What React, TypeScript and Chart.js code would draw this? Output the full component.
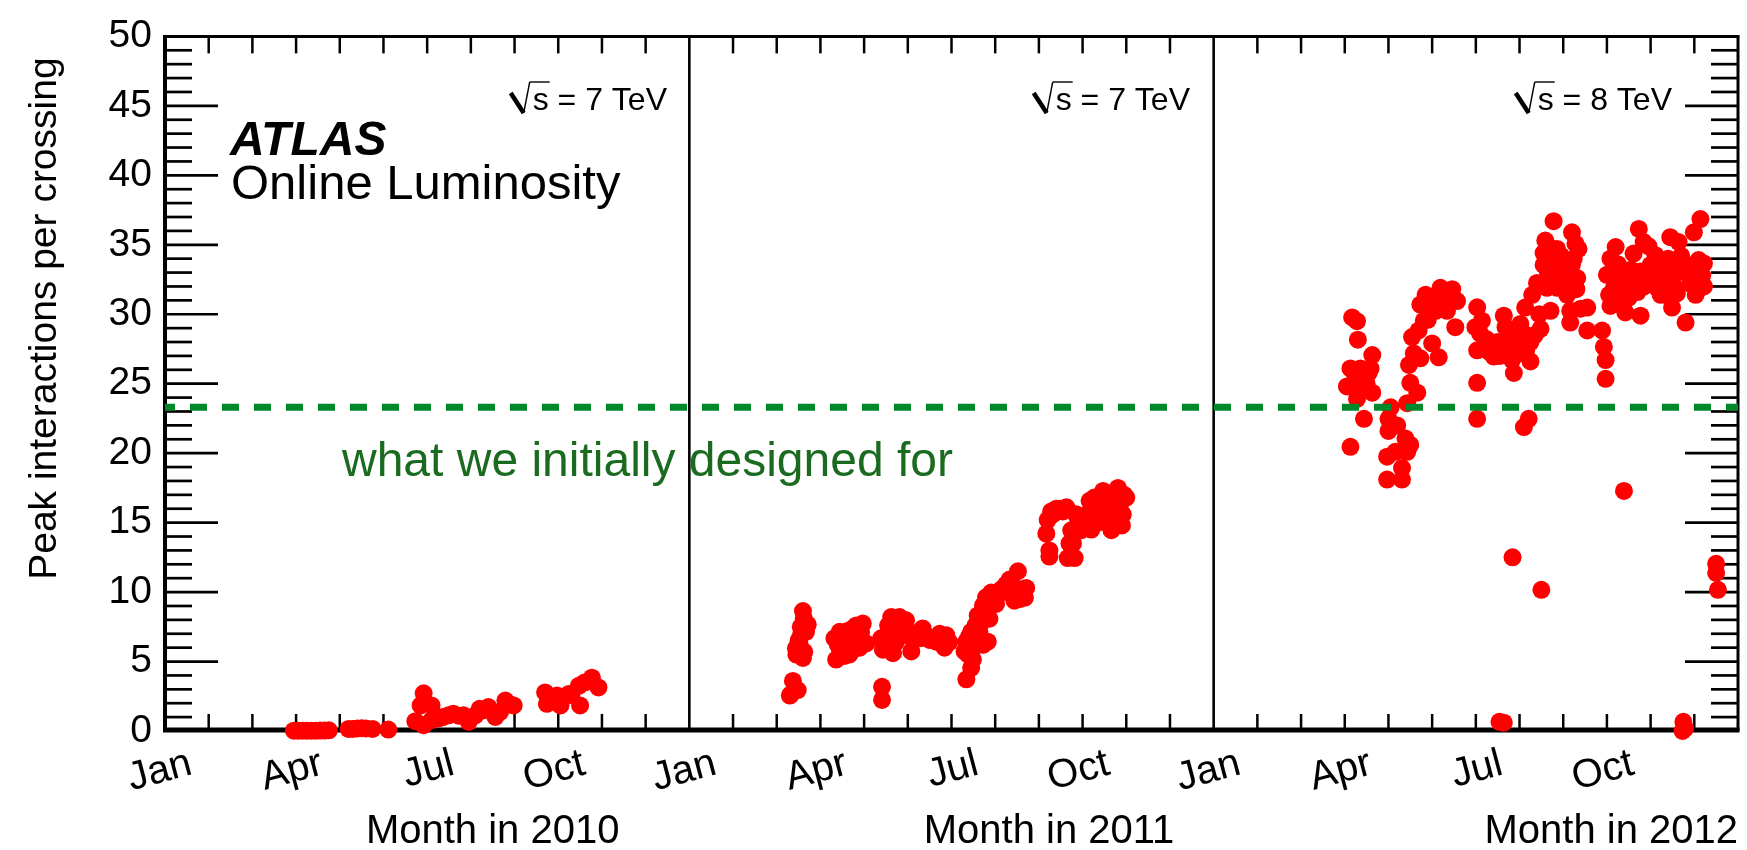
import React, { useEffect, useRef } from 'react';
import { Chart, registerables } from 'chart.js';

Chart.register(...registerables);

const FONT = '"Liberation Sans", Arial, Helvetica, sans-serif';

// ---- axis text ----
const xTickLabels = ['Jan', 'Apr', 'Jul', 'Oct']; // one every 3 months
const yearTitles = ['Month in 2010', 'Month in 2011', 'Month in 2012'];
const energies = ['7', '7', '8'];
const yTitle = 'Peak interactions per crossing';
const designLabel = 'what we initially designed for';
const designValue = 23.3;

// ---- data: month within the year (0 = 1 Jan), peak interactions per crossing ----
const months2010 = [2.95, 3.05, 3.15, 3.25, 3.35, 3.45, 3.55, 3.65, 3.75, 4.2, 4.3, 4.4, 4.5, 4.6, 4.75, 5.11, 5.73, 5.85, 5.92, 5.92, 6.1, 6.1, 6.26, 6.36, 6.49, 6.6, 6.72, 6.83, 6.95, 7.1, 7.2, 7.3, 7.4, 7.56, 7.67, 7.79, 7.9, 7.98, 8.7, 8.74, 8.97, 9.05, 9.15, 9.24, 9.3, 9.47, 9.5, 9.6, 9.77, 9.92];
const values2010 = [0.02, 0.02, 0.02, 0.02, 0.02, 0.02, 0.03, 0.03, 0.05, 0.15, 0.15, 0.18, 0.2, 0.18, 0.15, 0.1, 0.71, 1.84, 2.71, 0.42, 1.84, 0.78, 0.9, 1.0, 1.13, 1.25, 1.1, 1.13, 0.66, 1.13, 1.6, 1.5, 1.72, 1.01, 1.37, 2.19, 1.9, 1.84, 2.78, 1.96, 2.55, 1.84, 2.5, 2.66, 2.6, 3.25, 1.84, 3.49, 3.84, 3.14];

const months2011 = [2.33, 2.37, 2.48, 2.3, 2.6, 2.71, 2.67, 2.56, 2.52, 2.48, 2.6, 2.63, 2.44, 2.5, 2.55, 2.62, 2.45,
  3.36, 3.32, 3.44, 3.59, 3.66, 3.74, 3.82, 3.97, 4.05, 3.93, 3.51, 3.66, 3.85, 3.4, 3.48, 3.55, 3.62, 3.7, 3.78, 3.9, 3.45, 3.55, 3.7,
  4.41, 4.41,
  4.62, 4.81, 4.96, 4.39, 4.43, 4.66, 4.73, 4.58, 5.08, 5.04, 5.34, 5.5, 5.73, 5.88, 5.84, 5.65, 5.27, 4.89, 4.5, 4.55, 4.7, 4.78, 4.85, 4.95, 5.12, 5.2, 5.4, 5.6, 5.8, 5.95, 4.5,
  6.34, 6.45, 6.49, 6.3, 6.34, 6.45, 6.64, 6.83, 6.72, 6.6, 6.72, 6.79, 6.91, 7.02, 6.87, 7.14, 7.25, 7.33, 7.44, 7.56, 7.52, 7.63, 7.71, 7.48, 6.38, 6.4, 6.55, 6.68, 6.75, 6.85, 6.95, 7.05, 7.18, 7.3, 7.4, 7.6, 7.68, 6.5,
  8.17, 8.24, 8.24, 8.32, 8.4, 8.63, 8.7, 8.66, 8.82, 8.78, 8.74, 8.85, 8.97, 9.16, 9.16, 9.27, 9.47, 9.62, 9.66, 9.81, 9.92, 10.0, 9.39, 9.54, 9.77, 8.2, 8.28, 8.5, 8.55, 8.9, 9.0, 9.1, 9.2, 9.3, 9.45, 9.6, 9.7, 9.85, 9.95, 9.2, 9.35, 9.5, 9.75, 9.9];
const values2011 = [2.66, 3.6, 2.95, 2.55, 8.63, 7.66, 7.14, 7.0, 6.3, 5.85, 5.26, 5.7, 5.95, 6.5, 7.5, 8.1, 5.5,
  5.14, 6.67, 7.14, 6.2, 5.5, 7.38, 7.6, 7.73, 6.3, 7.1, 6.9, 6.9, 6.55, 6.2, 6.5, 7.0, 7.2, 6.8, 6.3, 6.0, 5.6, 5.4, 5.7,
  3.18, 2.24,
  8.2, 8.2, 7.97, 6.67, 5.85, 5.6, 6.4, 7.14, 5.73, 7.14, 7.38, 6.55, 7.0, 6.9, 6.0, 6.43, 6.67, 7.6, 6.3, 7.6, 7.9, 6.9, 6.9, 7.0, 6.6, 6.9, 6.9, 6.7, 6.6, 6.4, 5.9,
  3.72, 4.55, 5.14, 5.73, 6.43, 7.14, 7.14, 6.43, 6.2, 8.32, 9.03, 9.62, 9.97, 9.15, 8.08, 10.2, 10.56, 10.9, 9.38, 9.5, 11.5, 10.2, 10.3, 9.97, 5.5, 6.8, 7.6, 7.8, 8.6, 9.2, 9.5, 9.8, 10.0, 10.3, 10.5, 9.8, 9.6, 6.0,
  14.2, 13.0, 12.56, 15.6, 16.0, 16.1, 13.5, 12.45, 12.45, 13.5, 14.45, 15.6, 14.45, 14.9, 16.57, 16.8, 17.28, 15.6, 14.45, 17.5, 15.6, 16.8, 16.2, 16.57, 16.57, 15.2, 15.8, 16.0, 15.8, 15.0, 15.3, 15.6, 16.0, 16.4, 16.6, 17.0, 16.4, 16.2, 17.0, 14.5, 15.0, 15.3, 15.0, 14.8];

const months2012 = [3.17, 3.28, 3.3, 3.13, 3.2, 3.36, 3.63, 3.59, 3.05, 3.2, 3.36, 3.63, 3.44, 3.44, 3.13, 3.28, 3.4, 3.5, 3.25, 3.55,
  4.05, 4.0, 4.0, 4.2, 4.39, 4.5, 3.97, 4.16, 4.31, 3.97, 4.31, 4.43,
  4.43, 4.5, 4.66, 4.47, 4.54, 4.58, 4.73, 4.69, 4.81, 5.0, 5.15, 4.73, 4.85, 5.19, 5.46, 5.57, 5.34, 5.08, 5.53, 5.27, 4.96, 4.9, 5.05, 5.12, 5.4, 5.3,
  6.03, 5.99, 6.03, 6.03, 6.03, 6.14, 6.1, 6.18, 6.41, 6.37, 6.64, 6.68, 6.71, 6.83, 6.87, 6.94, 7.02, 7.1, 7.25, 7.25, 7.13, 7.29, 7.4, 7.48, 6.25, 6.3, 6.5, 6.55, 6.75, 6.9, 7.0, 7.15, 7.35, 7.45,
  7.71, 7.55, 7.59, 7.78, 7.55, 7.63, 7.86, 7.93, 8.01, 8.09, 7.86, 7.93, 8.2, 8.28, 8.24, 8.32, 8.16, 8.16, 8.55, 8.55, 8.89, 8.93, 8.97, 8.97, 7.65, 7.7, 7.8, 7.75, 7.95, 8.05, 8.12, 8.2, 8.35, 8.3, 8.4,
  9.0, 9.08, 9.2, 9.16, 9.08, 9.31, 9.42, 9.5, 9.61, 9.73, 9.84, 9.77, 9.77, 9.92, 10.0, 10.11, 10.15, 10.23, 10.38, 10.45, 10.53, 10.64, 10.53, 10.49, 10.8, 10.99, 11.14, 11.03, 11.22, 11.22, 11.03, 10.99, 10.76, 10.23, 9.23, 9.54, 9.05, 9.12, 9.25, 9.35, 9.45, 9.55, 9.65, 9.7, 9.85, 9.95, 10.05, 10.3, 10.4, 10.6, 10.7, 10.85, 10.9, 11.1, 11.18, 11.1, 10.45, 10.6,
  7.21, 7.1, 9.39, 6.84, 7.5, 11.5, 11.5, 11.54, 6.54, 6.64, 10.75, 10.79, 10.73];
const values2012 = [29.77, 29.5, 28.17, 26.1, 25.9, 26.1, 27.06, 26.1, 24.8, 24.7, 24.6, 24.35, 25.3, 22.47, 20.46, 23.9, 25.7, 25.0, 25.4, 25.8,
  23.3, 22.47, 21.6, 22.0, 21.05, 20.6, 19.75, 20.1, 18.93, 18.1, 18.1, 20.1,
  23.6, 25.06, 24.35, 26.35, 28.36, 27.18, 26.83, 28.83, 29.54, 27.9, 26.9, 30.7, 31.4, 31.9, 31.8, 30.95, 30.25, 30.25, 29.07, 31.2, 30.7, 29.6, 31.3, 30.9, 31.3, 30.4,
  30.5, 29.07, 27.4, 25.06, 22.47, 29.54, 28.6, 27.5, 26.95, 27.9, 29.9, 29.07, 27.65, 26.7, 25.77, 27.9, 29.3, 28.6, 28.0, 26.6, 30.48, 31.4, 32.25, 28.95, 28.2, 27.3, 28.0, 27.0, 28.3, 28.8, 27.2, 27.4, 28.5, 30.0,
  30.25, 33.55, 35.3, 36.7, 34.4, 31.9, 34.7, 33.55, 32.37, 31.4, 31.9, 32.96, 35.9, 35.08, 34.0, 32.6, 30.25, 29.4, 30.48, 28.83, 28.83, 27.65, 26.7, 25.35, 33.0, 34.8, 33.8, 32.4, 34.2, 33.3, 32.9, 33.6, 34.7, 31.8, 30.4,
  32.84, 34.0, 34.84, 31.9, 30.6, 32.6, 30.13, 31.19, 34.37, 36.14, 35.2, 33.07, 29.9, 32.37, 33.55, 34.25, 31.9, 31.4, 32.84, 35.55, 33.78, 35.2, 32.0, 30.48, 29.4, 35.9, 36.85, 33.3, 33.66, 32.0, 31.4, 32.7, 33.07, 33.3, 31.9, 32.13, 31.4, 33.0, 33.6, 31.0, 32.8, 33.2, 32.7, 31.6, 32.0, 34.9, 32.5, 32.2, 34.0, 33.0, 34.2, 33.5, 32.2, 33.9, 32.8, 31.8, 31.2, 31.5,
  22.47, 21.88, 17.28, 12.5, 10.16, 12.04, 11.38, 10.16, 0.66, 0.6, 0.66, 0.19, 0.0];

const toPoints = (months: number[], values: number[], yearOffset: number) =>
  months.map((m, i) => ({ x: yearOffset + m, y: values[i] }));

function seg(ctx: CanvasRenderingContext2D, x1: number, y1: number, x2: number, y2: number) {
  ctx.beginPath();
  ctx.moveTo(x1, y1);
  ctx.lineTo(x2, y2);
  ctx.stroke();
}

const framePlugin = {
  id: 'atlasFrame',
  beforeDatasetsDraw(chart: any) {
    const { ctx, chartArea: a, scales } = chart;
    const x = scales.x;
    const y = scales.y;
    ctx.save();
    ctx.strokeStyle = '#000';
    ctx.lineCap = 'butt';
    // y ticks (left and right, inward)
    ctx.lineWidth = 2.7;
    for (let v = 1; v < 50; v++) {
      const py = y.getPixelForValue(v);
      const len = v % 5 === 0 ? 53 : 27;
      seg(ctx, a.left, py, a.left + len, py);
      seg(ctx, a.right, py, a.right - len, py);
    }
    // x ticks every month (top and bottom, inward)
    ctx.lineWidth = 2.5;
    for (let m = 1; m < 36; m++) {
      if (m % 12 === 0) continue;
      const px = x.getPixelForValue(m);
      seg(ctx, px, a.bottom, px, a.bottom - 17);
      seg(ctx, px, a.top, px, a.top + 17);
    }
    // year dividers
    ctx.lineWidth = 2.6;
    [12, 24].forEach((m) => {
      const px = x.getPixelForValue(m);
      seg(ctx, px, a.top, px, a.bottom);
    });
    // frame
    ctx.lineWidth = 3;
    seg(ctx, a.left - 2, a.top, a.right + 1.5, a.top);
    seg(ctx, a.right, a.top, a.right, a.bottom);
    ctx.lineWidth = 4;
    seg(ctx, a.left, a.top, a.left, a.bottom);
    ctx.lineWidth = 5;
    seg(ctx, a.left - 2, a.bottom - 1, a.right + 1.5, a.bottom - 1);
    ctx.restore();
  },
  afterDatasetsDraw(chart: any) {
    const { ctx, chartArea: a, scales } = chart;
    const x = scales.x;
    ctx.save();
    ctx.fillStyle = '#000';
    ctx.strokeStyle = '#000';
    ctx.textBaseline = 'alphabetic';

    // ATLAS label
    ctx.textAlign = 'left';
    ctx.font = `italic bold 48px ${FONT}`;
    ctx.fillText('ATLAS', 230, 155);
    ctx.font = `49px ${FONT}`;
    ctx.fillText('Online Luminosity', 231, 199);

    // sqrt(s) labels
    const rights = [667, 1190, 1672];
    ctx.font = `32px ${FONT}`;
    energies.forEach((e, i) => {
      const base = 110;
      const rest = ` = ${e} TeV`;
      const sW = ctx.measureText('s').width;
      const rW = ctx.measureText(rest).width;
      const sX = rights[i] - rW - sW;
      const topY = base - 28;
      ctx.lineWidth = 4.5;
      seg(ctx, sX - 22, base - 17, sX - 9, base + 3);
      ctx.lineWidth = 1.4;
      seg(ctx, sX - 9, base + 3, sX - 3, topY);
      seg(ctx, sX - 3, topY, sX + sW + 1, topY);
      ctx.textAlign = 'left';
      ctx.fillText('s', sX, base);
      ctx.fillText(rest, sX + sW, base);
    });

    // design label
    ctx.fillStyle = '#1a6b1f';
    ctx.font = `48px ${FONT}`;
    ctx.textAlign = 'left';
    ctx.fillText(designLabel, 342, 476);

    // x titles
    ctx.fillStyle = '#000';
    ctx.font = `40px ${FONT}`;
    ctx.textAlign = 'right';
    const titleRights = [10.4, 23.1, 36.0];
    yearTitles.forEach((t, i) => {
      ctx.fillText(t, x.getPixelForValue(titleRights[i]), 843);
    });

    // y title
    ctx.save();
    ctx.translate(56, a.top + 21);
    ctx.rotate(-Math.PI / 2);
    ctx.font = `39px ${FONT}`;
    ctx.textAlign = 'right';
    ctx.fillText(yTitle, 0, 0);
    ctx.restore();

    ctx.restore();
  },
};

export default function App() {
  const ref = useRef<HTMLCanvasElement | null>(null);
  useEffect(() => {
    if (!ref.current) return;
    Chart.defaults.font.family = FONT;
    const pointStyle = {
      type: 'scatter' as const,
      backgroundColor: '#ff0000',
      borderWidth: 0,
      pointRadius: 9,
      pointHoverRadius: 9,
      clip: false as any,
      order: 1,
    };
    const chart = new Chart(ref.current, {
      type: 'scatter',
      data: {
        datasets: [
          {
            type: 'line',
            data: [
              { x: 0, y: designValue },
              { x: 36, y: designValue },
            ],
            borderColor: '#00882d',
            borderWidth: 7,
            borderDash: [17, 15],
            borderDashOffset: 7,
            pointRadius: 0,
            order: 0,
          } as any,
          { ...pointStyle, data: toPoints(months2010, values2010, 0) },
          { ...pointStyle, data: toPoints(months2011, values2011, 12) },
          { ...pointStyle, data: toPoints(months2012, values2012, 24) },
        ],
      },
      options: {
        animation: false,
        responsive: false,
        maintainAspectRatio: false,
        layout: { padding: { left: 0, right: 7, top: 24, bottom: 0 } },
        plugins: { legend: { display: false }, tooltip: { enabled: false } },
        scales: {
          x: {
            type: 'linear',
            min: 0,
            max: 36,
            grid: { display: false, drawTicks: false },
            border: { display: false },
            ticks: {
              stepSize: 3,
              autoSkip: false,
              minRotation: 15,
              maxRotation: 15,
              labelOffset: 26,
              padding: 9,
              color: '#000',
              font: { size: 40, family: FONT },
              callback: (v: any) => {
                const m = Math.round(Number(v));
                if (m >= 36) return '';
                return xTickLabels[(m / 3) % 4];
              },
            },
            afterFit: (s: any) => {
              s.height = 119;
              s.paddingLeft = 0;
              s.paddingRight = 0;
            },
          },
          y: {
            type: 'linear',
            min: 0,
            max: 50,
            grid: { display: false, drawTicks: false },
            border: { display: false },
            ticks: {
              stepSize: 5,
              padding: 13,
              color: '#000',
              font: { size: 39, family: FONT },
            },
            afterFit: (s: any) => {
              s.width = 165;
            },
          },
        },
      },
      plugins: [framePlugin],
    });
    return () => chart.destroy();
  }, []);
  return (
    <div style={{ position: 'absolute', left: 0, top: 0, width: 1747, height: 850, background: '#fff' }}>
      <canvas ref={ref} width={1747} height={850} style={{ display: 'block', width: 1747, height: 850 }} />
    </div>
  );
}
